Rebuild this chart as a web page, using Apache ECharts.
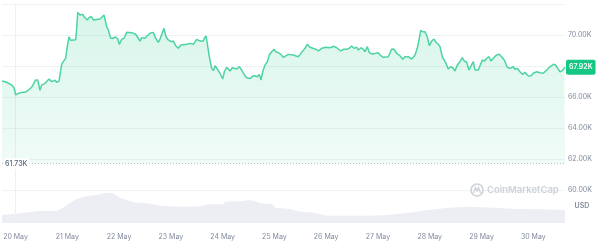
<!DOCTYPE html>
<html><head><meta charset="utf-8">
<script src="https://cdn.jsdelivr.net/npm/echarts@6/dist/echarts.min.js"></script>
<style>html,body{margin:0;padding:0;background:#fff}#c{width:600px;height:250px}</style>
</head><body><div id="c"></div>
<script>
// hours since 20 May 00:00
const hours = [-6.26,-4.08,-1.76,-0.70,0.09,1.30,2.87,4.40,5.93,7.51,8.25,9.36,10.29,11.36,12.14,13.67,14.46,15.53,16.78,18.31,19.10,20.16,21.41,22.16,23.27,23.73,24.80,25.59,26.51,27.90,28.37,28.83,29.90,31.15,31.75,32.54,33.28,34.21,35.32,36.06,36.85,39.17,41.02,42.27,43.01,44.13,45.19,46.44,47.37,48.11,49.22,50.29,51.54,53.86,55.71,56.92,57.71,58.49,60.02,61.09,62.34,63.13,63.87,64.98,66.19,66.98,68.83,69.76,70.82,72.07,73.14,74.25,75.46,76.71,77.31,79.35,80.88,82.41,83.99,85.52,87.05,87.51,88.30,88.90,89.69,90.94,91.68,92.47,93.53,94.79,96.04,96.78,97.89,98.63,99.42,100.49,101.41,102.53,103.73,104.84,105.59,106.84,107.90,109.01,109.94,111.01,112.26,113.00,113.79,114.58,115.64,116.71,117.64,118.75,119.81,120.74,121.81,123.06,124.13,124.91,126.44,128.76,131.08,132.65,134.18,135.25,136.50,138.82,140.35,141.92,143.78,145.77,147.62,148.88,149.62,150.73,151.94,153.51,154.58,155.83,156.89,158.15,158.89,160.14,161.21,162.00,163.06,163.99,165.38,166.95,168.16,168.95,170.48,172.79,174.37,175.43,176.69,178.22,179.47,180.53,182.06,183.64,185.17,186.23,187.16,187.81,188.74,189.80,190.87,191.80,192.91,193.97,194.90,195.97,196.76,197.82,198.61,199.54,200.60,201.71,202.64,203.71,204.77,206.03,207.09,208.02,209.13,210.20,211.13,212.19,212.98,214.51,215.30,216.36,217.47,218.40,219.47,220.39,221.46,222.57,224.10,225.35,226.56,227.95,229.20,230.73,231.52,232.58,233.84,235.09,236.15,236.94,237.68,238.93,240.00,241.58,243.11,244.64,246.21,247.74,249.27,250.38,251.31,252.37,253.44,254.37,254.69];
// price in thousands USD
const priceK = [67.03,66.95,66.77,66.60,66.13,66.24,66.30,66.30,66.45,66.63,66.69,67.10,67.10,66.43,66.77,66.88,66.97,67.16,66.99,67.08,66.95,67.03,68.11,68.28,68.50,69.03,69.89,69.66,69.74,69.70,70.43,71.46,71.29,71.34,71.18,71.29,70.97,71.14,71.18,70.97,70.97,71.03,71.29,70.54,70.32,69.79,69.79,69.87,69.74,69.40,69.72,69.79,70.17,70.15,70.05,69.79,69.61,69.83,69.79,69.95,70.11,70.00,70.17,69.79,69.53,69.74,70.43,69.89,69.68,69.57,69.61,69.31,69.14,69.35,69.46,69.40,69.46,69.40,69.72,69.61,69.61,69.79,69.94,69.46,68.71,67.85,67.70,68.02,67.81,67.53,67.16,67.63,67.92,67.95,67.68,67.89,67.95,67.81,67.95,67.74,67.63,67.27,67.21,67.21,67.35,67.37,67.31,67.46,67.10,67.63,68.06,68.28,68.71,68.92,69.08,68.92,68.86,68.75,68.56,68.54,68.75,68.71,68.60,68.88,69.14,69.40,69.21,69.10,68.97,69.14,69.21,69.18,69.27,69.18,69.14,68.97,69.08,69.08,69.14,69.29,69.14,69.21,69.03,69.18,69.08,68.92,69.25,68.86,68.77,68.82,68.86,68.71,68.56,68.60,69.10,69.08,68.82,68.66,68.43,68.60,68.60,68.45,68.71,69.14,69.79,70.30,70.21,70.21,69.89,69.31,69.61,69.74,69.53,69.40,69.25,68.60,68.71,68.17,67.81,67.95,67.89,67.68,68.06,68.28,68.54,68.32,68.24,67.74,68.00,68.28,67.74,67.74,67.85,68.39,68.32,68.50,68.60,68.32,68.50,68.66,68.77,68.60,68.39,67.92,67.85,67.95,67.79,67.85,67.63,67.46,67.59,67.53,67.35,67.37,67.53,67.63,67.57,67.53,67.74,67.95,68.11,68.06,67.85,67.63,67.70,67.85,67.92];
const volHours = [-6.26,2.09,11.36,19.10,22.16,24.47,28.37,33.00,37.64,42.27,45.33,48.44,51.54,54.60,60.81,66.98,76.25,85.52,88.62,96.32,97.10,105.59,107.90,111.01,113.33,118.75,120.28,127.23,131.87,136.50,141.13,144.24,155.06,164.33,172.05,178.22,184.38,187.49,198.29,209.13,221.46,232.30,243.11,254.69];
const volume = [8,9.7,12,12,15.3,19,24,27,28,30.3,29.7,25.3,23,20.7,19.7,17.3,16.3,16.5,18.7,18.7,21.3,22,23,22,19.7,19,15.3,14,11.3,10.7,8.7,7.3,7.3,7.3,8,9.3,10.7,12,14.7,16.3,15.3,14,13.7,13];
const dayTicks = [0,24,48,72,96,120,144,168,192,216,240];
const dayLabels = ['20 May','21 May','22 May','23 May','24 May','25 May','26 May','27 May','28 May','29 May','30 May'];
const yLabelValues = [60,62,64,66,70];
const lastPriceK = 67.92;
const minPriceK = 61.73;

const GREEN = '#16c784';
const GRAY = '#808a9d';
const FONT = 'Inter';
const xMin = -6.26, xMax = 254.7;

const chart = echarts.init(document.getElementById('c'), null, {renderer:'canvas'});
chart.setOption({
  animation:false,
  textStyle:{fontFamily:FONT},
  grid:[
    {left:2,right:35,top:4,height:217},
    {left:2,right:35,top:190,height:33}
  ],
  xAxis:[
    {type:'value',gridIndex:0,min:xMin,max:xMax,show:false,splitLine:{show:false}},
    {type:'value',gridIndex:1,min:xMin,max:xMax,
      axisLine:{show:false},axisTick:{show:false},splitLine:{show:false},
      axisLabel:{customValues:dayTicks,color:GRAY,fontSize:7,fontFamily:FONT,margin:10,
        formatter:v=>{const i=dayTicks.indexOf(Math.round(v));return i>=0?dayLabels[i]:'';}}}
  ],
  yAxis:[
    {type:'value',gridIndex:0,position:'right',min:58,max:72,interval:2,
      axisLine:{show:true,lineStyle:{color:'#eef0f3'}},axisTick:{show:false},
      splitLine:{lineStyle:{color:'#eff2f5',width:1}},
      axisLabel:{color:GRAY,fontSize:7,fontFamily:FONT,margin:3,
        formatter:v=>yLabelValues.indexOf(v)>=0?v.toFixed(2)+'K':''}},
    {type:'value',gridIndex:1,position:'right',min:0,max:33,
      axisLine:{show:true,lineStyle:{color:'#eef0f3'}},axisTick:{show:false},
      splitLine:{show:false},axisLabel:{show:false}}
  ],
  series:[
    {type:'line',xAxisIndex:1,yAxisIndex:1,data:volHours.map((h,i)=>[h,volume[i]]),
      symbol:'none',lineStyle:{width:0},areaStyle:{color:'#eceef3',opacity:1},z:1},
    {type:'line',xAxisIndex:0,yAxisIndex:0,data:hours.map((h,i)=>[h,priceK[i]]),
      symbol:'none',lineStyle:{color:GREEN,width:1.5,opacity:0.75},
      areaStyle:{origin:minPriceK,color:new echarts.graphic.LinearGradient(0,0,0,1,[
        {offset:0,color:'rgba(22,199,132,0.24)'},{offset:1,color:'rgba(22,199,132,0.09)'}])},
      markLine:{silent:true,symbol:'none',label:{show:false},
        lineStyle:{type:[1,2],color:'#b8bdc6',width:1},data:[{yAxis:minPriceK}]},
      z:3}
  ]
});

const pMin = chart.convertToPixel({xAxisIndex:0,yAxisIndex:0},[xMin,minPriceK]);
const pLast = chart.convertToPixel({xAxisIndex:0,yAxisIndex:0},[xMax,lastPriceK]);
const pUsd = chart.convertToPixel({yAxisIndex:1},17);
chart.setOption({graphic:[
  {type:'text',left:pMin[0]+1,top:pMin[1]-5,z:10,style:{text:minPriceK.toFixed(2)+'K',fill:'#58667e',font:'500 7px Inter',
    backgroundColor:'#fff',padding:[2,2,2,2],borderRadius:2}},
  {type:'text',x:pLast[0]+1,y:pLast[1],z:10,style:{text:lastPriceK.toFixed(2)+'K',fill:'#fff',font:'600 7px Inter',
    verticalAlign:'middle',backgroundColor:GREEN,padding:[4,3,4,3],borderRadius:2}},
  {type:'text',x:582,y:pUsd,z:10,style:{text:'USD',fill:GRAY,font:'600 7px Inter',align:'center',verticalAlign:'middle'}},
  {type:'circle',shape:{cx:477,cy:190,r:6},z:10,style:{fill:'none',stroke:'#cdd1d8',lineWidth:1.6}},
  {type:'polyline',shape:{points:[[473.5,193],[475.5,187.5],[477,191],[478.5,187.5],[480.5,193]]},z:10,style:{fill:'none',stroke:'#cdd1d8',lineWidth:1.3}},
  {type:'text',x:487,y:190,z:10,style:{text:'CoinMarketCap',fill:'#cdd1d8',font:'600 9.5px Inter',verticalAlign:'middle'}}
]});
</script></body></html>
